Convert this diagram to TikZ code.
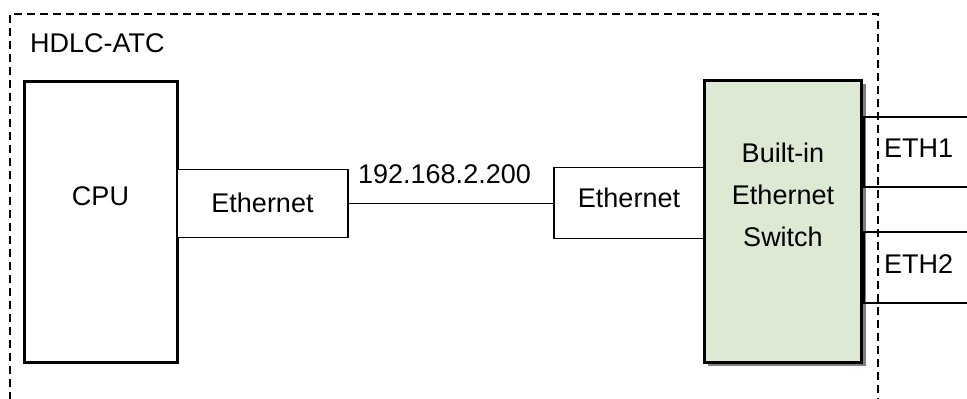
\documentclass[tikz,border=0pt]{standalone}
\usepackage{fontspec}
\setmainfont{Liberation Sans}
\definecolor{swgreen}{RGB}{221,233,211}
\definecolor{shadowgray}{RGB}{128,128,128}
\begin{document}
\begin{tikzpicture}[x=1pt,y=-1pt,
  txt/.style={font=\fontsize{27}{42}\selectfont, inner sep=0pt},
  thinbox/.style={draw=black, line width=1.5pt, fill=white, inner sep=0pt, outer sep=0pt},
  thickbox/.style={draw=black, line width=3pt, inner sep=0pt, outer sep=0pt},
  wire/.style={draw=black, line width=1.5pt},
  border/.style={draw=black, line width=1.5pt, dash pattern=on 8pt off 5pt}]
\useasboundingbox (0,0) rectangle (967,399);
% dashed enclosure
\coordinate (bl) at (10,400);
\coordinate (br) at (878,400);
\draw[border] (bl) -- (10,14) -- (878,14) -- (br);
\node[txt, anchor=west] (title) at (30,43) {HDLC-ATC};
% CPU
\node[thickbox, fill=white, minimum width=153pt, minimum height=281pt] (cpu) at (100.5,221.5) {};
\node[txt] (cputext) at (100.5,196) {CPU};
% Ethernet 1
\node[thinbox, minimum width=171pt, minimum height=68pt] (eth1) at (262.5,203.5) {};
\node[txt] (eth1text) at (262.5,203) {Ethernet};
% Ethernet 2
\node[thinbox, minimum width=150pt, minimum height=71pt] (eth2) at (629,203) {};
\node[txt] (eth2text) at (629,198) {Ethernet};
% link
\draw[wire] (eth1.east) -- (eth2.west |- eth1.east);
\node[txt] (ip) at (444.5,174) {192.168.2.200};
% switch with shadow
\fill[shadowgray] (708,84) rectangle (866,366);
\node[thickbox, fill=swgreen, minimum width=157pt, minimum height=282pt] (sw) at (782.5,221) {};
\node[txt, align=center] (swtext) at (783,195) {Built-in\\Ethernet\\Switch};
% ports
\coordinate (p1a) at (968,117);
\coordinate (p1b) at (968,187);
\coordinate (p2a) at (968,232);
\coordinate (p2b) at (968,303);
\draw[wire] (p1a) -- (864,117) -- (864,187) -- (p1b);
\draw[wire] (p2a) -- (864,232) -- (864,303) -- (p2b);
\node[txt, anchor=west] (e1) at (884,148) {ETH1};
\node[txt, anchor=west] (e2) at (884,264) {ETH2};
\end{tikzpicture}
\end{document}
